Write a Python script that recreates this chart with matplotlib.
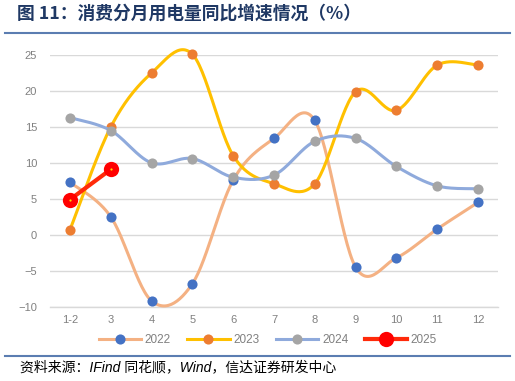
import matplotlib
matplotlib.use('Agg')
import matplotlib.pyplot as plt
from matplotlib.lines import Line2D
import numpy as np

plt.rcParams['font.family'] = ['Liberation Sans', 'Noto Sans CJK SC', 'DejaVu Sans']

# ── Data ─────────────────────────────────────────────────────────────────────
months = ['1-2', '3', '4', '5', '6', '7', '8', '9', '10', '11', '12']
y2022 = [7.3, 2.5, -9.2, -6.8, 7.6, 13.4, 15.9, -4.5, -3.2, 0.8, 4.5]
y2023 = [0.7, 15.0, 22.5, 25.1, 11.0, 7.1, 7.1, 19.9, 17.3, 23.6, 23.6]
y2024 = [16.3, 14.5, 10.0, 10.6, 8.0, 8.3, 13.0, 13.4, 9.5, 6.8, 6.4]
y2025 = [4.9, 9.1]
series_names = ['2022', '2023', '2024', '2025']

LINE_C = ['#F4B183', '#FFC000', '#8FAADC', '#FF2A0A']
MARK_C = ['#4472C4', '#ED7D31', '#A5A5A5', '#FF0000']


def smooth(xs, ys, n=30):
    # Excel-like smoothed line (Catmull-Rom as cubic Bezier)
    xs = np.asarray(xs, float)
    ys = np.asarray(ys, float)
    if len(xs) < 3:
        return xs, ys
    px = np.concatenate([[xs[0]], xs, [xs[-1]]])
    py = np.concatenate([[ys[0]], ys, [ys[-1]]])
    t = np.linspace(0, 1, n)[:, None]
    out_x, out_y = [], []
    for i in range(1, len(px) - 2):
        p0 = np.array([px[i], py[i]])
        p3 = np.array([px[i + 1], py[i + 1]])
        p1 = p0 + (p3 - np.array([px[i - 1], py[i - 1]])) / 6
        p2 = p3 - (np.array([px[i + 2], py[i + 2]]) - p0) / 6
        b = ((1 - t) ** 3) * p0 + 3 * ((1 - t) ** 2) * t * p1 \
            + 3 * (1 - t) * t ** 2 * p2 + t ** 3 * p3
        out_x.append(b[:, 0])
        out_y.append(b[:, 1])
    return np.concatenate(out_x), np.concatenate(out_y)


fig = plt.figure(figsize=(5.15, 3.81), dpi=100)
ax = fig.add_axes([0.0963, 0.195, 0.8715, 0.6606])

x = np.arange(len(months))
for k, ys in enumerate([y2022, y2023, y2024]):
    sx, sy = smooth(x[:len(ys)], ys)
    ax.plot(sx, sy, color=LINE_C[k], lw=2.2, zorder=3 + k, clip_on=False,
            solid_capstyle='round')
    ax.plot(x[:len(ys)], ys, 'o', color=MARK_C[k], ms=7.3, mec='none',
            zorder=3 + k, clip_on=False)

ax.plot(x[:len(y2025)], y2025, color=LINE_C[3], lw=3, zorder=7)
ax.plot(x[:len(y2025)], y2025, 'o', color=MARK_C[3], ms=11, mec='none', zorder=8)
ax.plot(x[:len(y2025)], y2025, 'o', color='#FFD700', ms=1.6, mec='none', zorder=9)

ax.set_xlim(-0.5, len(months) - 0.5)
ax.set_ylim(-10, 25)
ax.set_yticks(np.arange(-10, 26, 5))
ax.set_xticks(x)
ax.set_xticklabels(months)
ax.grid(axis='y', color='#D9D9D9', lw=1.0, zorder=0)
for s in ['top', 'right', 'left']:
    ax.spines[s].set_visible(False)
ax.spines['bottom'].set_color('#D9D9D9')
ax.spines['bottom'].set_linewidth(1.0)
ax.tick_params(axis='both', length=0, labelsize=8, labelcolor='#808080')
ax.tick_params(axis='y', pad=9)
ax.tick_params(axis='x', pad=6)

# Legend
handles = []
for k in range(4):
    if k < 3:
        handles.append(Line2D([], [], color=LINE_C[k], lw=2.2, marker='o',
                              ms=7.3, mfc=MARK_C[k], mec='none'))
    else:
        handles.append(Line2D([], [], color=LINE_C[k], lw=3, marker='o',
                              ms=11, mfc=MARK_C[k], mec='none'))
leg = fig.legend(handles, series_names, loc='center', ncol=4,
                 bbox_to_anchor=(0.52, 1 - 340 / 381), frameon=False,
                 fontsize=8.5, handlelength=3.6, columnspacing=1.4,
                 handletextpad=0.3)
for t in leg.get_texts():
    t.set_color('#808080')

# Title, rules, source
fig.text(17 / 515, 1 - 14 / 381, '图 11：消费分月用电量同比增速情况（%）',
         fontsize=12.8, fontweight='bold', color='#1F3864', va='center',
         family=['Noto Sans CJK SC', 'DejaVu Sans'])
fig.add_artist(Line2D([5 / 515, 510 / 515], [1 - 33 / 381] * 2,
                      color='#5B7DB1', lw=1.5))
fig.add_artist(Line2D([5 / 515, 510 / 515], [1 - 355.5 / 381] * 2,
                      color='#5B7DB1', lw=1.5))
fig.text(20 / 515, 1 - 367 / 381, '资料来源：IFind 同花顺，Wind，信达证券研发中心',
         fontsize=10, style='italic', color='#000000', va='center')

fig.savefig('out.png', dpi=100, facecolor='white')
